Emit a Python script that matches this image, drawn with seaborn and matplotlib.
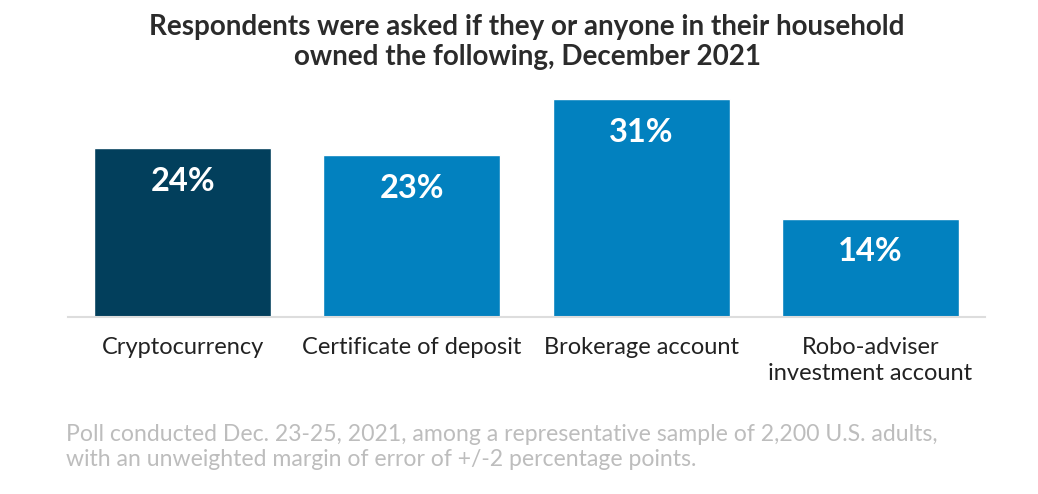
import matplotlib
matplotlib.use("Agg")
import matplotlib.pyplot as plt
import seaborn as sns
import pandas as pd

categories = ["Cryptocurrency", "Certificate of deposit", "Brokerage account",
              "Robo-adviser\ninvestment account"]
shares = [24, 23, 31, 14]
bar_colors = ["#023f5c", "#0281bf", "#0281bf", "#0281bf"]

title = "Respondents were asked if they or anyone in their household\nowned the following, December 2021"
note = ("Poll conducted Dec. 23-25, 2021, among a representative sample of 2,200 U.S. adults,\n"
        "with an unweighted margin of error of +/-2 percentage points.")

sns.set_style("white")
plt.rcParams["font.family"] = ["Lato", "DejaVu Sans"]

df = pd.DataFrame({"category": categories, "share": shares})

W, H = 1038, 494
fig = plt.figure(figsize=(W / 100, H / 100), dpi=100)
ax = fig.add_axes([68 / W, 177 / H, (985 - 68) / W, 225 / H])

sns.barplot(data=df, x="category", y="share", hue="category", palette=bar_colors,
            width=0.773, legend=False, ax=ax, saturation=1)

ax.set_xlim(-0.5, 3.5)
ax.set_ylim(0, 32)
ax.set_yticks([])
ax.set_xlabel("")
ax.set_ylabel("")
for s in ["top", "left", "right"]:
    ax.spines[s].set_visible(False)
ax.spines["bottom"].set_color("#dddddd")
ax.spines["bottom"].set_linewidth(1.5)
ax.tick_params(axis="x", length=0, pad=14.5, labelsize=17, labelcolor="#222222")
for lbl in ax.get_xticklabels():
    lbl.set_verticalalignment("top")
    lbl.set_linespacing(1.3)

for i, v in enumerate(shares):
    ax.text(i, v - 4.7, f"{v}%", ha="center", va="center", color="white",
            fontsize=23.5, fontweight="bold")

fig.text(527 / W, 1 - 42 / H, title, ha="center", va="center", fontsize=20,
         fontweight="bold", color="#2b2b2b", linespacing=1.2)
fig.text(66 / W, 1 - 447 / H, note, ha="left", va="center", fontsize=16.6,
         color="#bdbdbd", linespacing=1.28)

fig.savefig("out.png", dpi=100)
